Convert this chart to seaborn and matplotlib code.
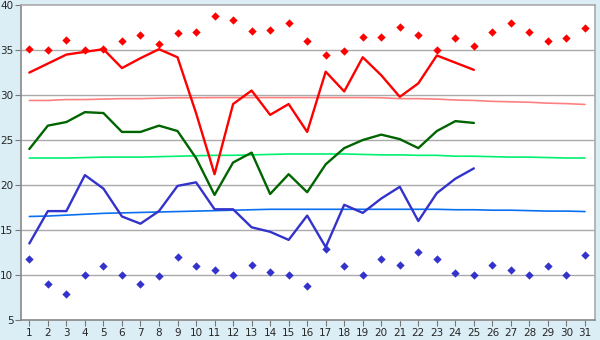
import numpy as np
import pandas as pd
import matplotlib
matplotlib.use("Agg")
import matplotlib.pyplot as plt
import seaborn as sns

days = list(range(1, 32))
days_line = list(range(1, 26))

red_line = [32.5, 33.5, 34.5, 34.8, 35.1, 33.0, 34.1, 35.1, 34.2, 28.0,
            21.2, 29.0, 30.5, 27.8, 29.0, 25.9, 32.6, 30.4, 34.2, 32.2,
            29.8, 31.3, 34.4, 33.6, 32.8]
green_line = [24.0, 26.6, 27.0, 28.1, 28.0, 25.9, 25.9, 26.6, 26.0, 23.0,
              18.9, 22.5, 23.6, 19.0, 21.2, 19.2, 22.3, 24.1, 25.0, 25.6,
              25.1, 24.1, 26.0, 27.1, 26.9]
blue_line = [13.5, 17.1, 17.1, 21.1, 19.6, 16.5, 15.7, 17.1, 19.9, 20.3,
             17.3, 17.3, 15.3, 14.8, 13.9, 16.6, 13.1, 17.8, 16.9, 18.5,
             19.8, 16.0, 19.1, 20.7, 21.85]

red_points = [35.1, 35.0, 36.1, 35.0, 35.1, 36.0, 36.7, 35.7, 36.85, 37.0,
              38.8, 38.3, 37.1, 37.2, 38.0, 36.0, 34.4, 34.9, 36.4, 36.4,
              37.6, 36.7, 35.0, 36.3, 35.4, 37.0, 38.0, 37.0, 36.0, 36.3, 37.4]
blue_points = [11.75, 9.0, 7.85, 10.0, 11.0, 10.0, 9.0, 9.85, 12.0, 11.0,
               10.6, 10.0, 11.1, 10.3, 10.0, 8.75, 12.85, 11.0, 10.0, 11.75,
               11.1, 12.6, 11.75, 10.2, 10.0, 11.1, 10.5, 10.0, 11.0, 10.0, 12.2]

red_trend = [29.4, 29.4, 29.5, 29.5, 29.55, 29.6, 29.6, 29.65, 29.7, 29.7,
             29.72, 29.72, 29.72, 29.72, 29.72, 29.72, 29.72, 29.72, 29.72, 29.7,
             29.6, 29.6, 29.55, 29.45, 29.4, 29.3, 29.25, 29.2, 29.1, 29.05, 28.95]
green_trend = [23.0, 23.0, 23.0, 23.05, 23.1, 23.1, 23.1, 23.15, 23.2, 23.25,
               23.3, 23.3, 23.35, 23.4, 23.45, 23.45, 23.45, 23.45, 23.4, 23.35,
               23.35, 23.3, 23.3, 23.2, 23.2, 23.15, 23.1, 23.1, 23.05, 23.0, 23.0]
blue_trend = [16.5, 16.55, 16.65, 16.75, 16.85, 16.9, 16.95, 17.0, 17.05, 17.1,
              17.15, 17.2, 17.25, 17.3, 17.3, 17.3, 17.3, 17.3, 17.3, 17.3,
              17.3, 17.3, 17.3, 17.25, 17.25, 17.2, 17.2, 17.15, 17.1, 17.1, 17.05]

sns.set_style("white")
plt.rcParams['font.family'] = ['DejaVu Sans']

fig = plt.figure(figsize=(6, 3.4), dpi=100, facecolor='#dbeef6')
ax = fig.add_axes([0.035, 0.059, 0.957, 0.926])
ax.set_facecolor('white')

for y in range(10, 40, 5):
    ax.axhline(y, color='#aaaaaa', lw=1, zorder=0)

sns.lineplot(x=days, y=red_trend, color='#ff8080', lw=1.2, ax=ax)
sns.lineplot(x=days, y=green_trend, color='#00f070', lw=1.2, ax=ax)
sns.lineplot(x=days, y=blue_trend, color='#0a70f0', lw=1.2, ax=ax)

sns.lineplot(x=days_line, y=red_line, color='#ff0000', lw=1.7, ax=ax)
sns.lineplot(x=days_line, y=green_line, color='#006400', lw=1.7, ax=ax)
sns.lineplot(x=days_line, y=blue_line, color='#3333cc', lw=1.7, ax=ax)

sns.scatterplot(x=days, y=red_points, color='#ff0000', marker='D', s=18,
                linewidth=0, ax=ax)
sns.scatterplot(x=days, y=blue_points, color='#3333cc', marker='D', s=18,
                linewidth=0, ax=ax)

ax.set_xlim(0.55, 31.55)
ax.set_ylim(5, 40)
ax.set_xticks(days)
ax.set_yticks(range(5, 41, 5))
ax.tick_params(axis='both', length=4, color='#777777', labelsize=7.5,
               pad=1.5, bottom=True, left=True)
for s in ax.spines.values():
    s.set_color('#aaaaaa')
    s.set_linewidth(1.2)
ax.spines['left'].set_color('#888888')
ax.spines['bottom'].set_color('#888888')

fig.savefig('out.png', dpi=100, facecolor=fig.get_facecolor())
